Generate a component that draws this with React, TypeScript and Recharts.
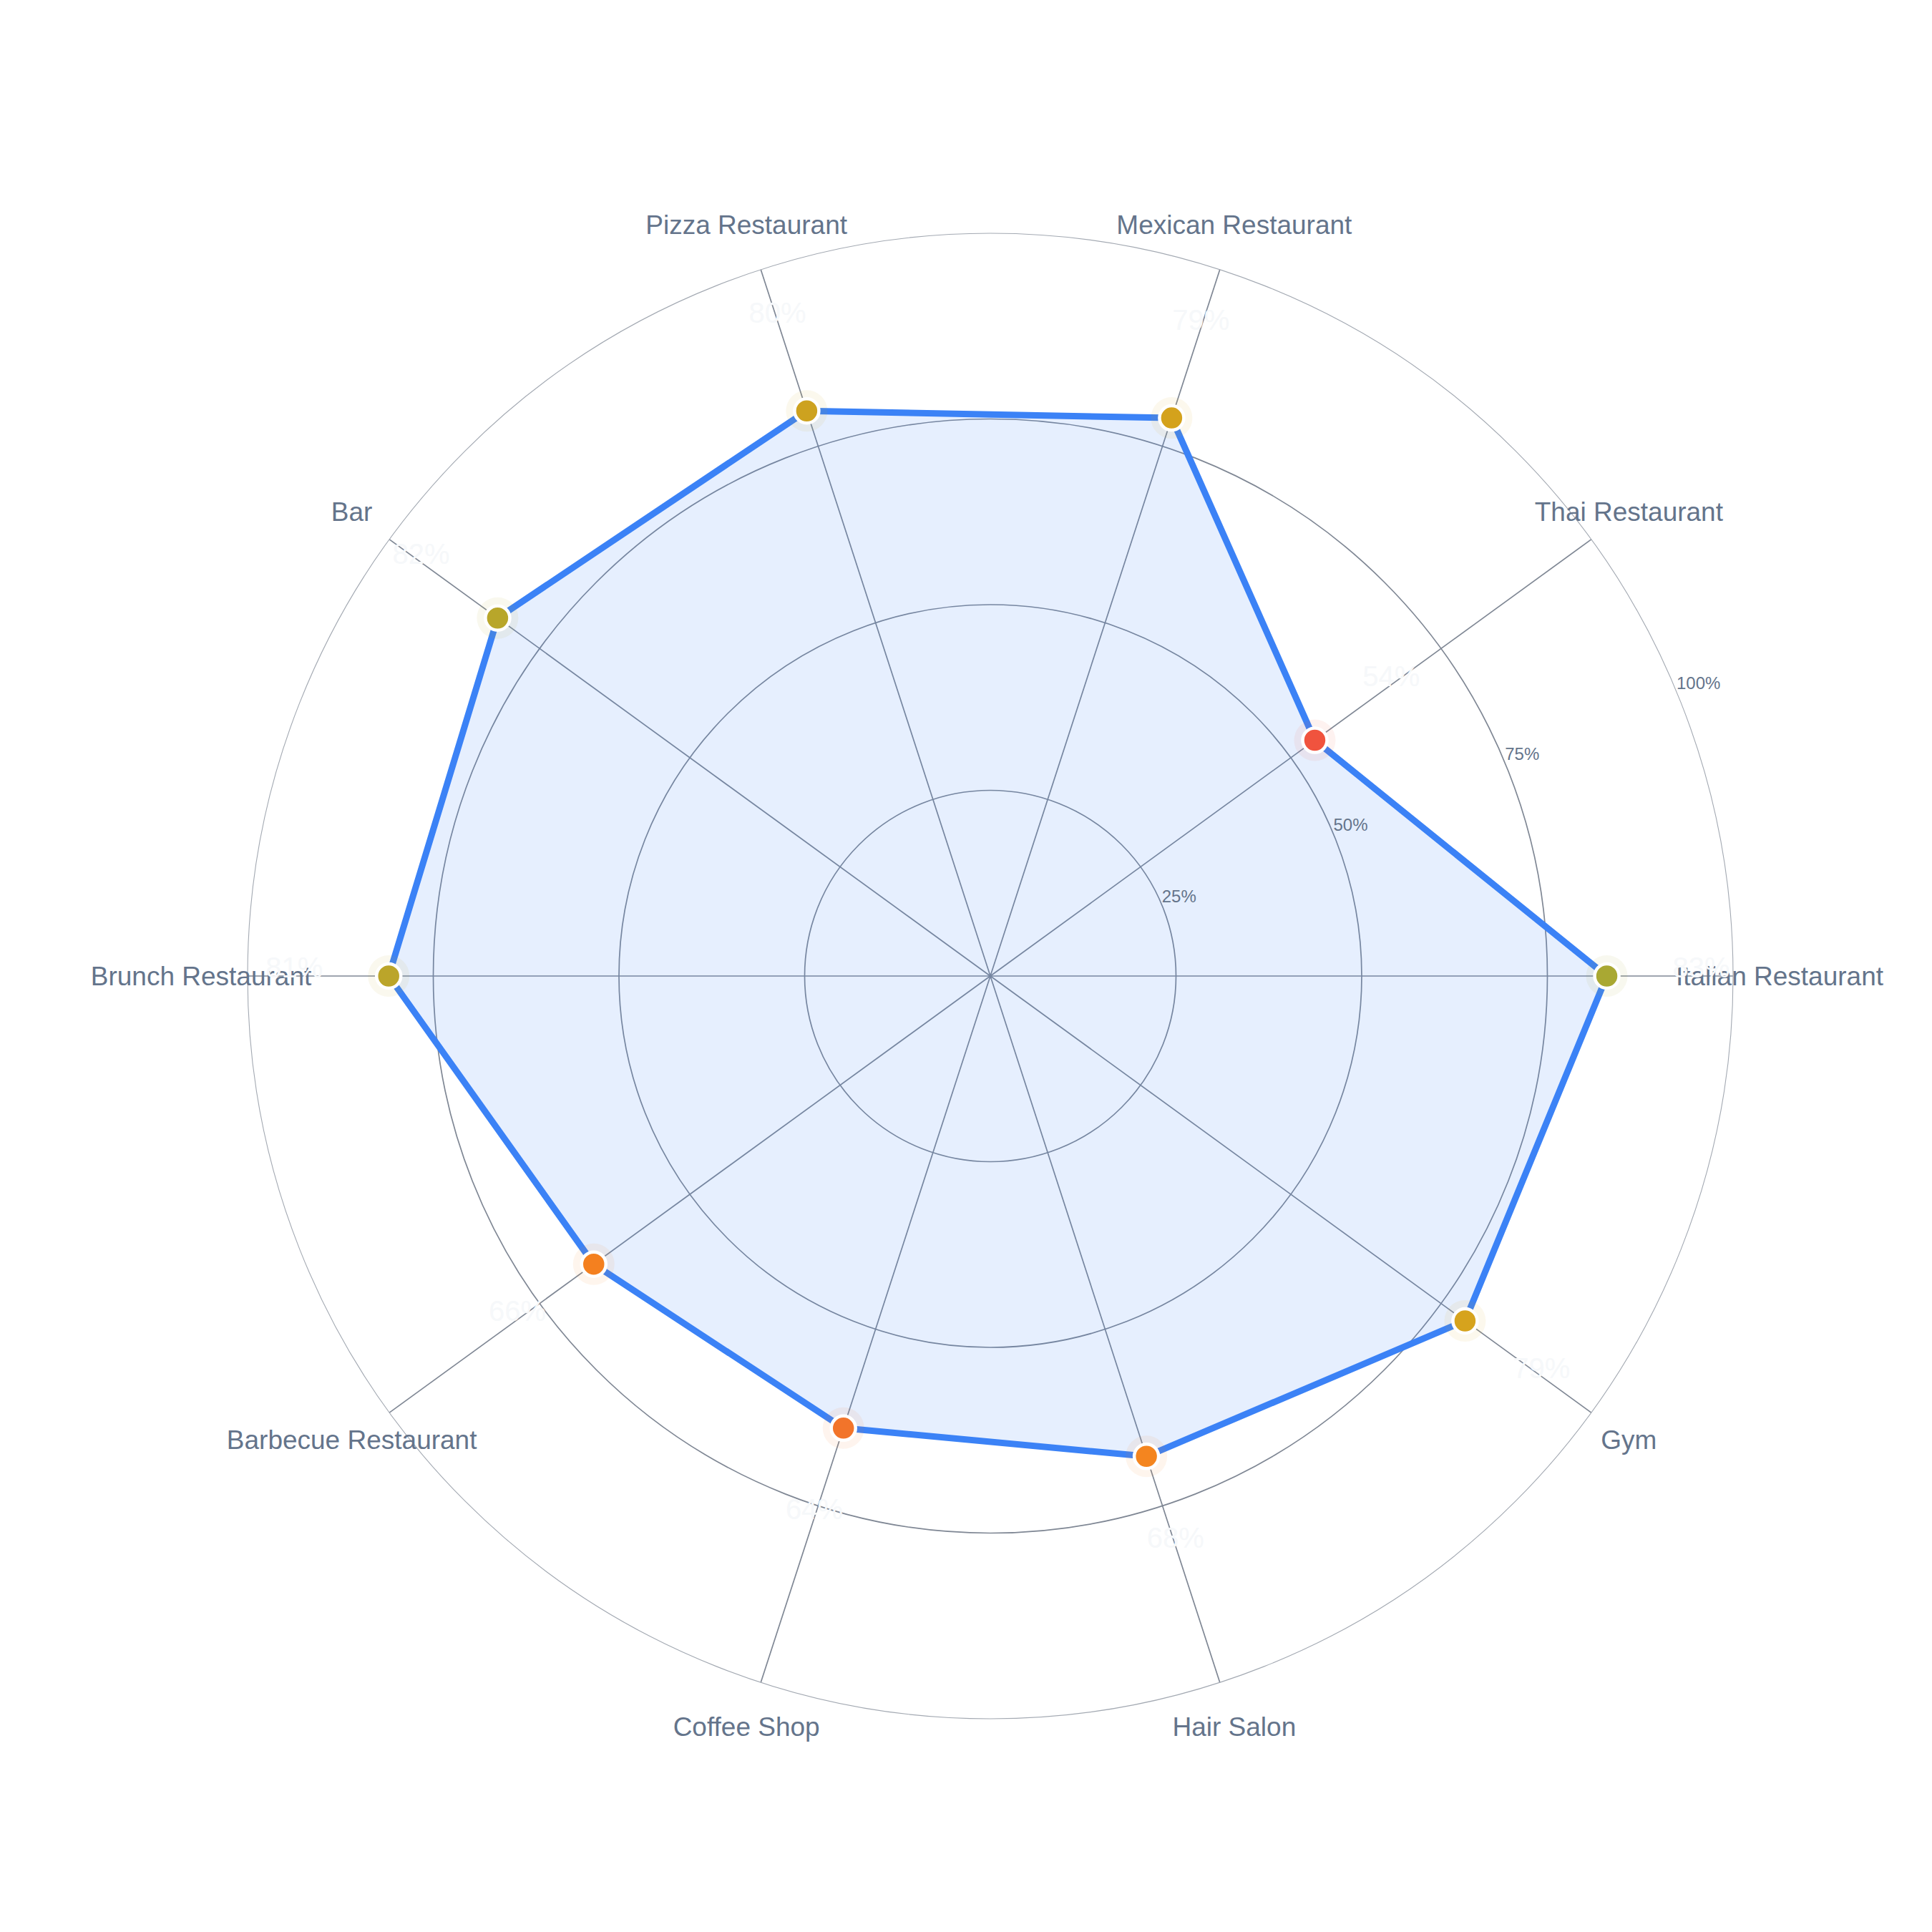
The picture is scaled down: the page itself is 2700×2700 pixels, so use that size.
import { RadarChart, Radar, PolarGrid, PolarAngleAxis, PolarRadiusAxis } from 'recharts';

const categories = [
  'Italian Restaurant',
  'Thai Restaurant',
  'Mexican Restaurant',
  'Pizza Restaurant',
  'Bar',
  'Brunch Restaurant',
  'Barbecue Restaurant',
  'Coffee Shop',
  'Hair Salon',
  'Gym',
];
const shares = [83, 54, 79, 80, 82, 81, 66, 64, 68, 79];
const radiusTicks = [25, 50, 75, 100];

// marker colours, one per category
const dotColors = [
  '#a9a833', '#f0533e', '#d4a21c', '#cda21f', '#b8a62a',
  '#bba52a', '#f4801f', '#f2742a', '#f4851f', '#d6a31d',
];

// chart runs clockwise, so list first category then the rest backwards (counter-clockwise look)
const order = [0, ...categories.map((_, i) => i).slice(1).reverse()];
const data = order.map((i) => ({ name: categories[i], value: shares[i], idx: i }));

const W = 2692;
const CX = 1376;
const CY = 1356;
const R = 1038;
const FONT = '"Liberation Sans", Arial, Helvetica, sans-serif';

const AngleTick = ({ x, y, payload }: any) => (
  <text x={x} y={y} textAnchor="middle" dominantBaseline="central" fill="#64748b" fontSize={37} fontFamily={FONT}>
    {payload.value}
  </text>
);

const RadiusTick = ({ x, y, payload }: any) => (
  <text x={x} y={y - 4} textAnchor="start" fill="#64748b" fontSize={24} fontFamily={FONT}>
    {payload.value}%
  </text>
);

const renderDot = (props: any) => {
  const { cx, cy, index } = props;
  const row = data[index];
  const color = dotColors[row.idx];
  const dx = cx - CX;
  const dy = cy - CY;
  const len = Math.sqrt(dx * dx + dy * dy) || 1;
  const lx = cx + (dx / len) * 132;
  const ly = cy + (dy / len) * 132 - 12;
  return (
    <g key={`dot-${index}`}>
      <circle cx={cx} cy={cy} r={29} fill={color} fillOpacity={0.08} />
      <circle cx={cx} cy={cy} r={17} fill={color} stroke="#ffffff" strokeWidth={4.5} />
      <text x={lx} y={ly} textAnchor="middle" dominantBaseline="central" fill="#f6f8fa" fontSize={40} fontFamily={FONT}>
        {row.value}%
      </text>
    </g>
  );
};

export default function App() {
  return (
    <div style={{ width: W, height: W, background: '#ffffff' }}>
      <RadarChart width={W} height={W} data={data} cx={CX} cy={CY} outerRadius={R} startAngle={0} endAngle={-360}>
        <PolarGrid
          gridType="circle"
          polarRadius={[R * 0.25, R * 0.5, R * 0.75]}
          stroke="#7f8794"
          strokeWidth={1.7}
        />
        <PolarGrid gridType="circle" polarRadius={[R]} radialLines={false} stroke="#a3a9b2" strokeWidth={1.1} />
        <PolarAngleAxis dataKey="name" tick={<AngleTick />} tickLine={false} axisLine={false} tickSize={65} />
        <PolarRadiusAxis
          angle={22.5}
          domain={[0, 100]}
          ticks={radiusTicks}
          axisLine={false}
          tickLine={false}
          tick={<RadiusTick />}
        />
        <Radar
          dataKey="value"
          stroke="#3b82f6"
          strokeWidth={9}
          strokeLinejoin="round"
          fill="#3b82f6"
          fillOpacity={0.13}
          dot={renderDot}
          isAnimationActive={false}
        />
      </RadarChart>
    </div>
  );
}
